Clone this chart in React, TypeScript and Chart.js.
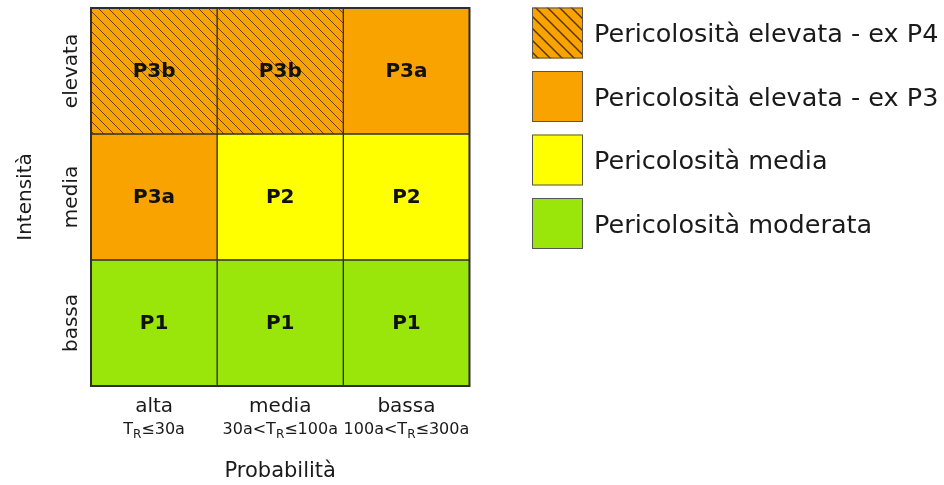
import React, { useEffect, useRef } from "react";
import { Chart, registerables } from "chart.js";

Chart.register(...registerables);

// ---- data ----
const probabilityLabels = ["alta", "media", "bassa"];
const returnPeriodPre = ["", "30a<", "100a<"];
const returnPeriodPost = ["≤30a", "≤100a", "≤300a"];
const intensityLabels = ["bassa", "media", "elevata"];
const rowBassa = [1, 1, 1];
const rowMedia = [1, 1, 1];
const rowElevata = [1, 1, 1];
const classBassa = ["P1", "P1", "P1"];
const classMedia = ["P3a", "P2", "P2"];
const classElevata = ["P3b", "P3b", "P3a"];
const legendLabels = [
  "Pericolosità elevata - ex P4",
  "Pericolosità elevata - ex P3",
  "Pericolosità media",
  "Pericolosità moderata",
];
const legendClasses = ["P3b", "P3a", "P2", "P1"];
const xTitle = "Probabilità";
const yTitle = "Intensità";

const FONT = "'DejaVu Sans', sans-serif";
const ORANGE = "#F8A300";
const YELLOW = "#FFFF00";
const GREEN = "#9BE60A";
const LINE = "#2e2e2e";
const HATCH = "#5a3200";

function makeHatch(spacing: number, lw: number): CanvasPattern | string {
  const c = document.createElement("canvas");
  c.width = spacing;
  c.height = spacing;
  const g = c.getContext("2d");
  if (!g) return ORANGE;
  g.fillStyle = ORANGE;
  g.fillRect(0, 0, spacing, spacing);
  g.strokeStyle = HATCH;
  g.lineWidth = lw;
  g.beginPath();
  for (let k = -1; k <= 1; k++) {
    g.moveTo(k * spacing - 1, -1);
    g.lineTo(k * spacing + spacing + 1, spacing + 1);
  }
  g.stroke();
  return g.createPattern(c, "repeat") as CanvasPattern;
}

export default function App() {
  const ref = useRef<HTMLCanvasElement | null>(null);

  useEffect(() => {
    const canvas = ref.current;
    if (!canvas) return;
    const cellHatch = makeHatch(10, 0.9);
    const legendHatch = makeHatch(12, 1.4);
    const colorOf = (cls: string, legend = false) =>
      cls === "P1" ? GREEN : cls === "P2" ? YELLOW : cls === "P3a" ? ORANGE : legend ? legendHatch : cellHatch;

    const rowClasses = [classBassa, classMedia, classElevata];

    const textPlugin = {
      id: "matrixText",
      afterDatasetsDraw(chart: any) {
        const { ctx, chartArea } = chart;
        ctx.save();
        // outer frame
        ctx.strokeStyle = LINE;
        ctx.lineWidth = 2;
        ctx.strokeRect(chartArea.left, chartArea.top, chartArea.right - chartArea.left, chartArea.bottom - chartArea.top);
        // cell labels
        ctx.fillStyle = "#111";
        ctx.font = `bold 20px ${FONT}`;
        ctx.textAlign = "center";
        ctx.textBaseline = "middle";
        chart.data.datasets.forEach((_ds: any, di: number) => {
          const meta = chart.getDatasetMeta(di);
          meta.data.forEach((el: any, i: number) => {
            const p = el.getProps(["x", "y", "base"], true);
            ctx.fillText(rowClasses[di][i], p.x, (p.y + p.base) / 2 + 1);
          });
        });
        ctx.restore();
      },
      afterDraw(chart: any) {
        const { ctx, chartArea, scales } = chart;
        ctx.save();
        ctx.fillStyle = "#1a1a1a";
        // x tick labels
        probabilityLabels.forEach((lab, i) => {
          const x = scales.x.getPixelForValue(i);
          ctx.font = `20px ${FONT}`;
          ctx.textAlign = "center";
          ctx.textBaseline = "alphabetic";
          ctx.fillText(lab, x, chartArea.bottom + 26);
          // second line with subscript
          const big = `16px ${FONT}`;
          const small = `12px ${FONT}`;
          ctx.font = big;
          const wPre = ctx.measureText(returnPeriodPre[i]).width;
          const wT = ctx.measureText("T").width;
          const wPost = ctx.measureText(returnPeriodPost[i]).width;
          ctx.font = small;
          const wR = ctx.measureText("R").width;
          const total = wPre + wT + wR + wPost;
          let cx = x - total / 2;
          const by = chartArea.bottom + 48;
          ctx.textAlign = "left";
          ctx.font = big;
          ctx.fillText(returnPeriodPre[i], cx, by);
          cx += wPre;
          ctx.fillText("T", cx, by);
          cx += wT;
          ctx.font = small;
          ctx.fillText("R", cx, by + 4);
          cx += wR;
          ctx.font = big;
          ctx.fillText(returnPeriodPost[i], cx, by);
        });
        // x title
        ctx.font = `21px ${FONT}`;
        ctx.textAlign = "center";
        ctx.fillText(xTitle, (chartArea.left + chartArea.right) / 2, chartArea.bottom + 91);
        // y tick labels (rotated)
        intensityLabels.forEach((lab, i) => {
          const y = scales.y.getPixelForValue(i + 0.5);
          ctx.save();
          ctx.translate(chartArea.left - 14, y);
          ctx.rotate(-Math.PI / 2);
          ctx.font = `20px ${FONT}`;
          ctx.textAlign = "center";
          ctx.textBaseline = "alphabetic";
          ctx.fillText(lab, 0, 0);
          ctx.restore();
        });
        // y title
        ctx.save();
        ctx.translate(31, (chartArea.top + chartArea.bottom) / 2);
        ctx.rotate(-Math.PI / 2);
        ctx.font = `20px ${FONT}`;
        ctx.textAlign = "center";
        ctx.fillText(yTitle, 0, 0);
        ctx.restore();
        // legend
        const lx = 532;
        const boxW = 51;
        const boxH = 51;
        const step = 63.5;
        legendLabels.forEach((lab, i) => {
          const top = 7.5 + i * step;
          ctx.fillStyle = colorOf(legendClasses[i], true);
          ctx.fillRect(lx, top, boxW, boxH);
          ctx.strokeStyle = "#555";
          ctx.lineWidth = 1;
          ctx.strokeRect(lx + 0.5, top + 0.5, boxW - 1, boxH - 1);
          ctx.fillStyle = "#1a1a1a";
          ctx.font = `25.5px ${FONT}`;
          ctx.textAlign = "left";
          ctx.textBaseline = "alphabetic";
          ctx.fillText(lab, 594, top + boxH / 2 + 9);
        });
        ctx.restore();
      },
    };

    const mk = (label: string, data: number[], classes: string[]) => ({
      label,
      data,
      backgroundColor: classes.map((c) => colorOf(c)),
      borderColor: LINE,
      borderWidth: 1,
      borderSkipped: false,
      barPercentage: 1,
      categoryPercentage: 1,
    });

    const chart = new Chart(canvas, {
      type: "bar",
      data: {
        labels: probabilityLabels,
        datasets: [
          mk(intensityLabels[0], rowBassa, classBassa),
          mk(intensityLabels[1], rowMedia, classMedia),
          mk(intensityLabels[2], rowElevata, classElevata),
        ] as any,
      },
      options: {
        responsive: false,
        animation: false,
        layout: { padding: { left: 91, top: 8, right: 474.5, bottom: 99 } },
        plugins: { legend: { display: false }, tooltip: { enabled: false } },
        scales: {
          x: { display: false, stacked: true, offset: true, grid: { display: false } },
          y: { display: false, stacked: true, min: 0, max: 3, grid: { display: false } },
        },
      },
      plugins: [textPlugin],
    } as any);
    return () => chart.destroy();
  }, []);

  return (
    <div style={{ position: "fixed", left: 0, top: 0, width: 944, height: 485, background: "#fff" }}>
      <canvas ref={ref} width={944} height={485} style={{ display: "block" }} />
    </div>
  );
}
